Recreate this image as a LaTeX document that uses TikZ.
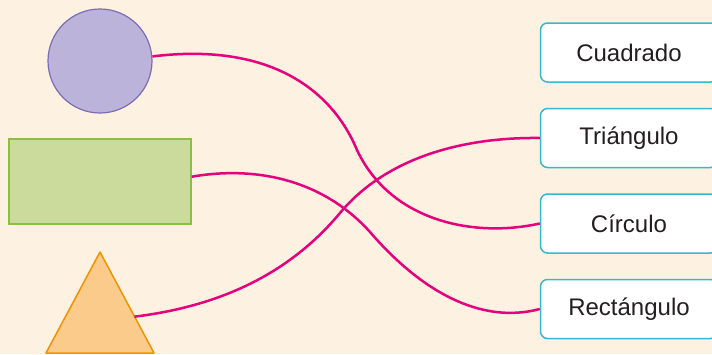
\documentclass[tikz,border=0pt]{standalone}
\usepackage{fontspec}
\setmainfont{Liberation Sans}
\usetikzlibrary{positioning,calc}
\definecolor{cbg}{HTML}{FDF1E1}
\definecolor{cpink}{HTML}{E5007D}
\definecolor{cteal}{HTML}{35B9CD}
\definecolor{cviolet}{HTML}{BBB3DA}
\definecolor{cvioletd}{HTML}{7B6DB3}
\definecolor{cgreen}{HTML}{CADB9C}
\definecolor{cgreend}{HTML}{8CBF3F}
\definecolor{corange}{HTML}{FBCB8C}
\definecolor{corangd}{HTML}{F39200}
\definecolor{ctext}{HTML}{231F20}

\begin{document}
\begin{tikzpicture}[x=1pt,y=-1pt,font=\fontsize{24}{28}\selectfont,node distance=25pt]
  \tikzstyle{label}=[draw=cteal,line width=1.5pt,rounded corners=7pt,fill=white,text=ctext,minimum width=177pt,minimum height=59pt,inner sep=0pt]
  \tikzstyle{link}=[draw=cpink,line width=2.5pt]

  % background
  \fill[cbg] (0,0) rectangle (712,354);
  \useasboundingbox (0,0) rectangle (712,354);

  % shapes
  \node[circle,draw=cvioletd,line width=1.2pt,fill=cviolet,minimum size=104pt] (circ) at (100,61) {};
  \node[rectangle,draw=cgreend,line width=1.5pt,fill=cgreen,minimum width=182pt,minimum height=85pt] (rect) at (100,181.5) {};
  \coordinate (tA) at (100,252);
  \coordinate (tB) at (46,353);
  \coordinate (tC) at (154,353);
  \draw[draw=corangd,line width=1.5pt,fill=corange,line join=round] (tA) -- (tB) -- (tC) -- cycle;
  \coordinate (tri) at ($(tA)!0.64!(tC)$);

  % labels
  \node[label] (cuad) at (629,52.5) {Cuadrado};
  \node[label,below=of cuad] (trian) {Triángulo};
  \node[label,below=of trian] (circu) {Círculo};
  \node[label,below=of circu] (rectg) {Rectángulo};

  % links
  \draw[link] (circ.5) .. controls (270,42) and (332,90) .. (357,150)
    .. controls (391,222) and (475,238) .. (circu.west);
  \draw[link] (rect.3) .. controls (260,165) and (325,182) .. (370,232)
    .. controls (420,290) and (480,325) .. (rectg.west);
  \draw[link] (tri) .. controls (230,305) and (295,267) .. (340,213)
    .. controls (385,159) and (460,137) .. (trian.west);
\end{tikzpicture}
\end{document}
